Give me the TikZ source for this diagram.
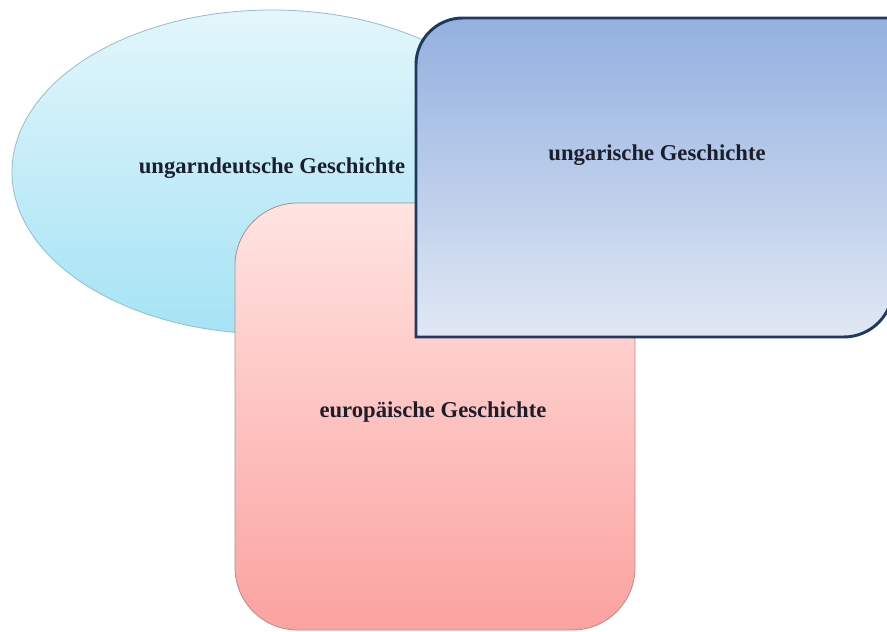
\documentclass[tikz,border=0pt]{standalone}
\usepackage{fontspec}
\setmainfont{Liberation Serif}
\definecolor{cyantop}{HTML}{E3F6FB}
\definecolor{cyanbot}{HTML}{A5E3F5}
\definecolor{cyanline}{HTML}{8FBFCB}
\definecolor{pinktop}{HTML}{FFE4E1}
\definecolor{pinkbot}{HTML}{FBA2A0}
\definecolor{pinkline}{HTML}{B98A8A}
\definecolor{bluetop}{HTML}{93B0E0}
\definecolor{bluebot}{HTML}{E1E8F4}
\definecolor{blueline}{HTML}{1F3A5F}
\definecolor{txt}{HTML}{1B1F2B}

\begin{document}
\begin{tikzpicture}[x=0.75pt, y=-0.75pt,
		lbl/.style={font=\fontsize{17}{20}\selectfont\bfseries, text=txt}]
	\useasboundingbox (0,0) rectangle (887,631);
	
	\coordinate (U) at (272,172);
	\coordinate (E1) at (235,203);
	\coordinate (E2) at (635,630);
	\coordinate (H1) at (416,18);
	\coordinate (H2) at (893,337);
	
	\shade[top color=cyantop, bottom color=cyanbot, draw=cyanline, line width=0.6pt] (U) ellipse [x radius=195pt, y radius=121.5pt];
	\node[lbl] (ud) at (272,168) {ungarndeutsche Geschichte};
	
	\shade[top color=pinktop, bottom color=pinkbot, draw=pinkline, line width=0.6pt, rounded corners=47pt] (E1) rectangle (E2);
	\node[lbl] (eu) at (433,412) {europäische Geschichte};
	
	\shade[top color=bluetop, bottom color=bluebot, draw=blueline, line width=2.2pt] (H1 |- H2) -- ([yshift=-35pt]H1) arc [start angle=180, end angle=90, radius=35pt] -- (H2 |- H1) -- ([yshift=37pt]H2) arc [start angle=0, end angle=-90, radius=37pt] -- cycle;
	\node[lbl] (ug) at (657,155) {ungarische Geschichte};
\end{tikzpicture}
\end{document}
